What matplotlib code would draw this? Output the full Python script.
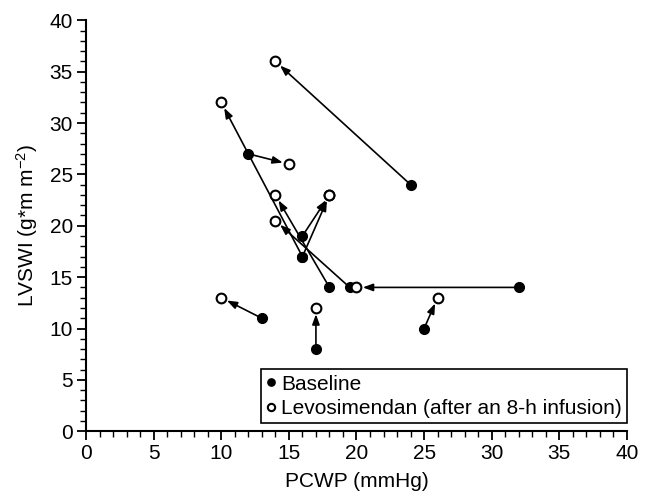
import matplotlib.pyplot as plt
import matplotlib as mp

# PCWP / LVSWI per patient: baseline -> levosimendan (after 8-h infusion)
base_pcwp = [24, 12, 16, 16, 16, 18, 19.5, 32, 13, 17, 25]
base_lvswi = [24, 27, 19, 17, 17, 14, 14, 14, 11, 8, 10]
levo_pcwp = [14, 15, 18, 18, 10, 14, 14, 20, 10, 17, 26]
levo_lvswi = [36, 26, 23, 23, 32, 23, 20.5, 14, 13, 12, 13]

x_ticks = [0, 5, 10, 15, 20, 25, 30, 35, 40]
y_ticks = [0, 5, 10, 15, 20, 25, 30, 35, 40]

mp.rcParams['font.family'] = ['Liberation Sans', 'DejaVu Sans']
mp.rcParams['mathtext.fontset'] = 'custom'
mp.rcParams['mathtext.rm'] = 'Liberation Sans'
mp.rcParams['mathtext.it'] = 'Liberation Sans'
fsize = 15

fig = plt.figure(figsize=(6.47, 4.94), dpi=100)
ax = fig.add_axes([0.133, 0.127, 0.836, 0.832])

# arrows first so the markers sit on top
for bx, by, lx, ly in zip(base_pcwp, base_lvswi, levo_pcwp, levo_lvswi):
    ax.annotate("", xy=(lx, ly), xytext=(bx, by),
                arrowprops=dict(arrowstyle='-|>,head_length=0.6,head_width=0.22',
                                color='black', lw=1.2, shrinkA=0, shrinkB=4.5,
                                mutation_scale=10),
                zorder=2)

ax.plot(base_pcwp, base_lvswi, "o", color='black', ms=7, zorder=3, label="Baseline")
ax.plot(levo_pcwp, levo_lvswi, "o", mfc='white', mec='black', mew=1.5, ms=7,
        zorder=3, label="Levosimendan (after an 8-h infusion)")

ax.set_xlim(0, 40)
ax.set_ylim(0, 40)
ax.set_xticks(x_ticks)
ax.set_yticks(y_ticks)
ax.set_xticks(range(0, 41), minor=True)
ax.set_yticks(range(0, 41), minor=True)
ax.tick_params(which='major', length=6.5, width=1.3, labelsize=fsize,
               direction='out', pad=3)
ax.tick_params(which='minor', length=4, width=1.0, direction='out')
for s in ['top', 'right']:
    ax.spines[s].set_visible(False)
for s in ['left', 'bottom']:
    ax.spines[s].set_linewidth(1.5)

ax.set_xlabel("PCWP (mmHg)", fontsize=fsize, labelpad=6)
ax.set_ylabel("LVSWI (g*m m$^{-2}$)", fontsize=fsize, labelpad=7)

leg = ax.legend(loc='lower right', bbox_to_anchor=(1.0, 0.02), fontsize=fsize,
                frameon=True, fancybox=False, edgecolor='black', borderaxespad=0,
                handlelength=0.4, handletextpad=0.3, borderpad=0.25,
                labelspacing=0.25, markerscale=0.75)
leg.get_frame().set_linewidth(1.2)
leg.get_frame().set_alpha(1)

fig.savefig("out.png", dpi=100)
